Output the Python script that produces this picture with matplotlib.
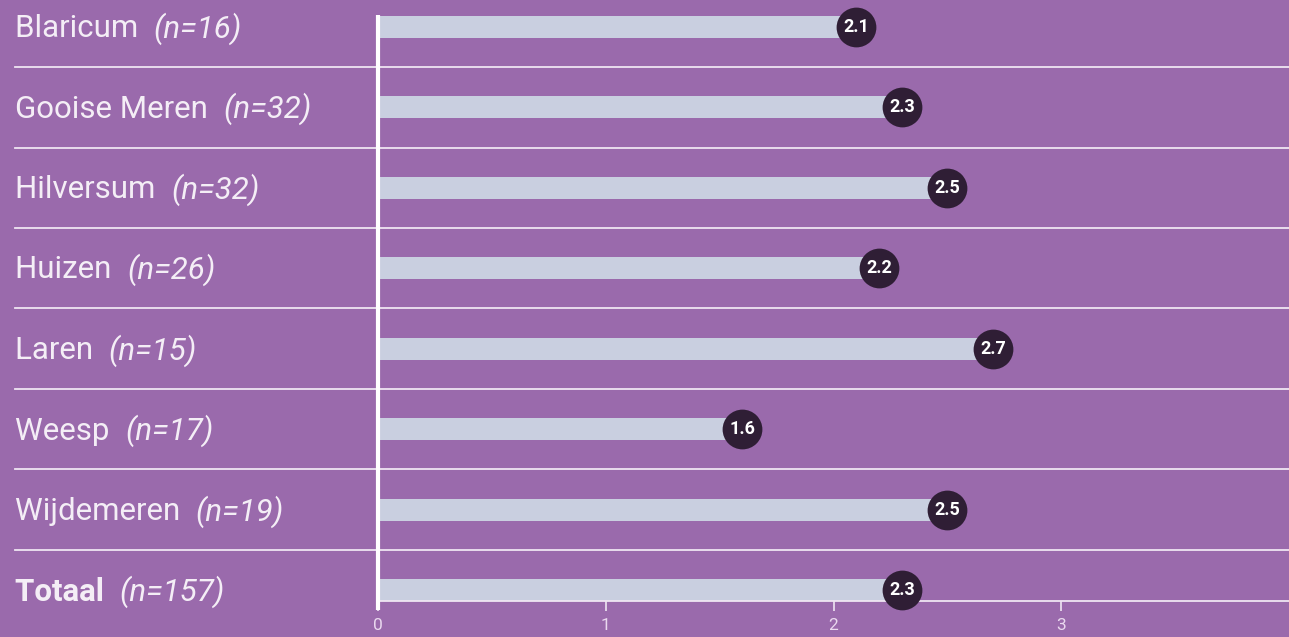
import matplotlib
matplotlib.use("Agg")
import matplotlib.pyplot as plt

names = ["Blaricum", "Gooise Meren", "Hilversum", "Huizen", "Laren", "Weesp", "Wijdemeren", "Totaal"]
counts = ["n=16", "n=32", "n=32", "n=26", "n=15", "n=17", "n=19", "n=157"]
values = [2.1, 2.3, 2.5, 2.2, 2.7, 1.6, 2.5, 2.3]
xticks = [0, 1, 2, 3]

BG = "#9a6aac"
BAR = "#c9cfe0"
DOT = "#2f1e35"
TXT = "#f4eef6"
LINE = "#efe6f2"

W, H = 1289, 637
fig = plt.figure(figsize=(W / 100, H / 100), dpi=100, facecolor=BG)
ax_left = 378 / W
ax_bottom = 1 - 601 / H
ax = fig.add_axes([ax_left, ax_bottom, 1 - ax_left, 601 / H])
ax.set_facecolor(BG)

row_px = 80.5
top_idx = -27 / row_px
bot_idx = len(names) - 1 + 11 / row_px
ax.set_ylim(bot_idx, top_idx)
ax.set_xlim(0, 4.0)

ys = list(range(len(names)))
ax.barh(ys, values, height=22 / row_px, color=BAR, zorder=2)
ax.scatter(values, ys, s=820, color=DOT, zorder=4, clip_on=False, linewidths=0)
for v, y in zip(values, ys):
    ax.text(v, y, f"{v:.1f}", ha="center", va="center", color="white",
            fontsize=13, fontweight="bold", family=["Roboto", "DejaVu Sans"], zorder=5)

# separators
x_left = (15 - 378) / 228
for i in range(len(names) - 1):
    ax.plot([x_left, 4.0], [i + 0.5, i + 0.5], color=LINE, lw=1.3, clip_on=False, zorder=1)

# vertical axis line
ax.plot([0, 0], [(15 - 27) / row_px, bot_idx + 9 / row_px], color="white", lw=3,
        clip_on=False, zorder=6, solid_capstyle="butt")

for s in ["top", "right", "left"]:
    ax.spines[s].set_visible(False)
ax.spines["bottom"].set_color(LINE)
ax.spines["bottom"].set_linewidth(1.3)
ax.set_yticks([])
ax.set_xticks(xticks)
ax.set_xticklabels([str(t) for t in xticks])
ax.tick_params(axis="x", colors=LINE, length=7, width=1.2, labelsize=12.5, pad=5,
               labelcolor="#ead9ef")
for lab in ax.get_xticklabels():
    lab.set_family(["Roboto", "DejaVu Sans"])

# row labels
for i, (nm, c) in enumerate(zip(names, counts)):
    ypix = 28.5 + i * row_px
    yf = 1 - ypix / H
    bold = nm == "Totaal"
    t = fig.text(15 / W, yf, nm + "  ", ha="left", va="center", color=TXT, fontsize=22.5,
                 fontweight="bold" if bold else "normal", family=["Roboto", "DejaVu Sans"])
    fig.canvas.draw()
    bb = t.get_window_extent()
    fig.text(bb.x1 / W, yf, f"({c})", ha="left", va="center", color=TXT, fontsize=22.5,
             style="italic", fontweight="normal", family=["Roboto", "DejaVu Sans"])

fig.savefig("out.png", dpi=100, facecolor=BG)
